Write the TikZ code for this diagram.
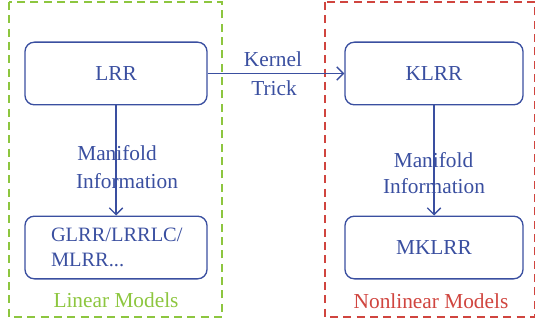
\documentclass[tikz,border=0pt]{standalone}
\usepackage{fontspec}
\setmainfont{Liberation Serif}
\usetikzlibrary{arrows.meta}
\definecolor{bl}{HTML}{3A4FA0}
\definecolor{gr}{HTML}{8DC63F}
\definecolor{rd}{HTML}{D0453F}
\tikzset{fs/.style={font=\fontsize{16}{18}\selectfont}}
\begin{document}
\begin{tikzpicture}[x=0.75pt,y=-0.75pt,
  box/.style={draw=bl,line width=1pt,rounded corners=7pt,minimum width=136.5pt,minimum height=47pt,text=bl,fs},
  lbl/.style={text=bl,fs,inner sep=0pt},
  conn/.style={draw=bl,line width=1pt,-{Straight Barb[length=5pt,width=10pt]}},
  frame/.style={dashed,dash pattern=on 6pt off 4pt,line width=1pt}]
\useasboundingbox (0,0) rectangle (535,324);
\draw[frame,draw=gr] (9,2) rectangle (222,317);
\draw[frame,draw=rd] (325,2) rectangle (535,317);
\node[box] (lrr) at (116,73.5) {LRR};
\node[box,align=left,text width=97.5pt,inner xsep=19.5pt,font=\fontsize{15.3}{18.5}\selectfont] (glrr) at (116,247.5) {GLRR/LRRLC/\\MLRR...};
\node[box,minimum width=133.5pt] (klrr) at (434,73.5) {KLRR};
\node[box,minimum width=133.5pt] (mklrr) at (434,247.5) {MKLRR};
\draw[conn] (lrr) -- (glrr);
\draw[conn] (klrr) -- (mklrr);
\draw[conn] (lrr) -- (klrr);
\node[lbl] (m1) at (117,153) {Manifold};
\node[lbl] (i1) at (127,181) {Information};
\node[lbl] (m2) at (433.5,160) {Manifold};
\node[lbl] (i2) at (434,186) {Information};
\node[lbl] (k) at (273,59) {Kernel};
\node[lbl] (t) at (274,88) {Trick};
\node[text=gr,fs] (lm) at (116,300) {Linear Models};
\node[text=rd,fs] (nm) at (431,301) {Nonlinear Models};
\end{tikzpicture}
\end{document}
